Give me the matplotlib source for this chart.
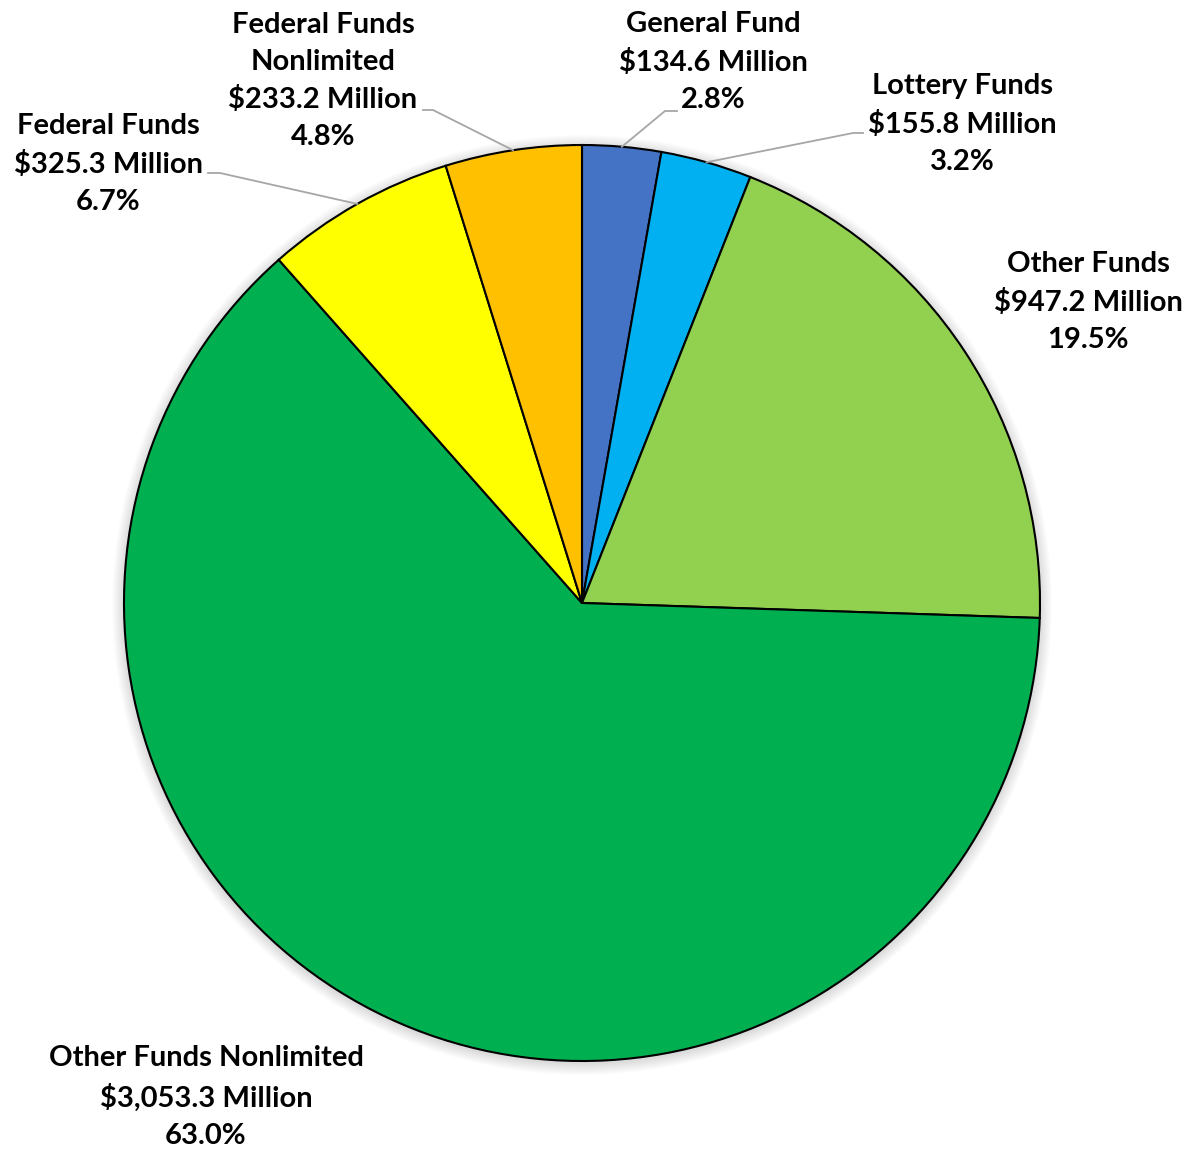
import numpy as np
import matplotlib.pyplot as plt
from matplotlib.patches import Circle

plt.rcParams['font.family'] = ['Lato', 'DejaVu Sans']

names = ["General Fund", "Lottery Funds", "Other Funds", "Other Funds Nonlimited",
         "Federal Funds", "Federal Funds\nNonlimited"]
values = [134.6, 155.8, 947.2, 3053.3, 325.3, 233.2]
colors = ["#4472C4", "#00B0F0", "#92D050", "#00B050", "#FFFF00", "#FFC000"]

# label centres and leader elbows in pixel coords (y from top)
label_xy = [(713, 62), (962, 124), (1088, 302), (206, 1097), (108, 164), (323, 81)]
elbows = [[(677, 111), (665, 111)], [(863, 133), (853, 133)], None, None,
          [(208, 173), (220, 173)], [(423, 110), (433, 110)]]

W, H = 1190, 1152
cx, cy, R = 582, H - 603, 458

fig = plt.figure(figsize=(W/100, H/100), dpi=100)
ax = fig.add_axes([0, 0, 1, 1])

# soft shadow
for k in range(12):
    ax.add_patch(Circle((cx, cy - 2), R + 12 - k, color='black', alpha=0.012, lw=0, zorder=0))

wedges, _ = ax.pie(values, colors=colors, startangle=90, counterclock=False,
                   center=(cx, cy), radius=R, frame=True,
                   wedgeprops=dict(edgecolor='black', linewidth=1.5))
ax.set_xlim(0, W)
ax.set_ylim(0, H)
ax.axis('off')

total = sum(values)
for w, name, v, (lx, ly), el in zip(wedges, names, values, label_xy, elbows):
    pct = v / total * 100
    txt = f"{name}\n${v:,.1f} Million\n{pct:.1f}%"
    ax.text(lx, H - ly, txt, ha='center', va='center', fontsize=21,
            fontweight='bold', linespacing=1.52, color='black')
    if el is not None:
        mid = np.deg2rad((w.theta1 + w.theta2) / 2)
        px, py = cx + R*np.cos(mid), cy + R*np.sin(mid)
        xs = [el[0][0], el[1][0], px]
        ys = [H - el[0][1], H - el[1][1], py]
        ax.plot(xs, ys, color='#A6A6A6', lw=1.3, zorder=1)

fig.savefig('out.png', dpi=100)
